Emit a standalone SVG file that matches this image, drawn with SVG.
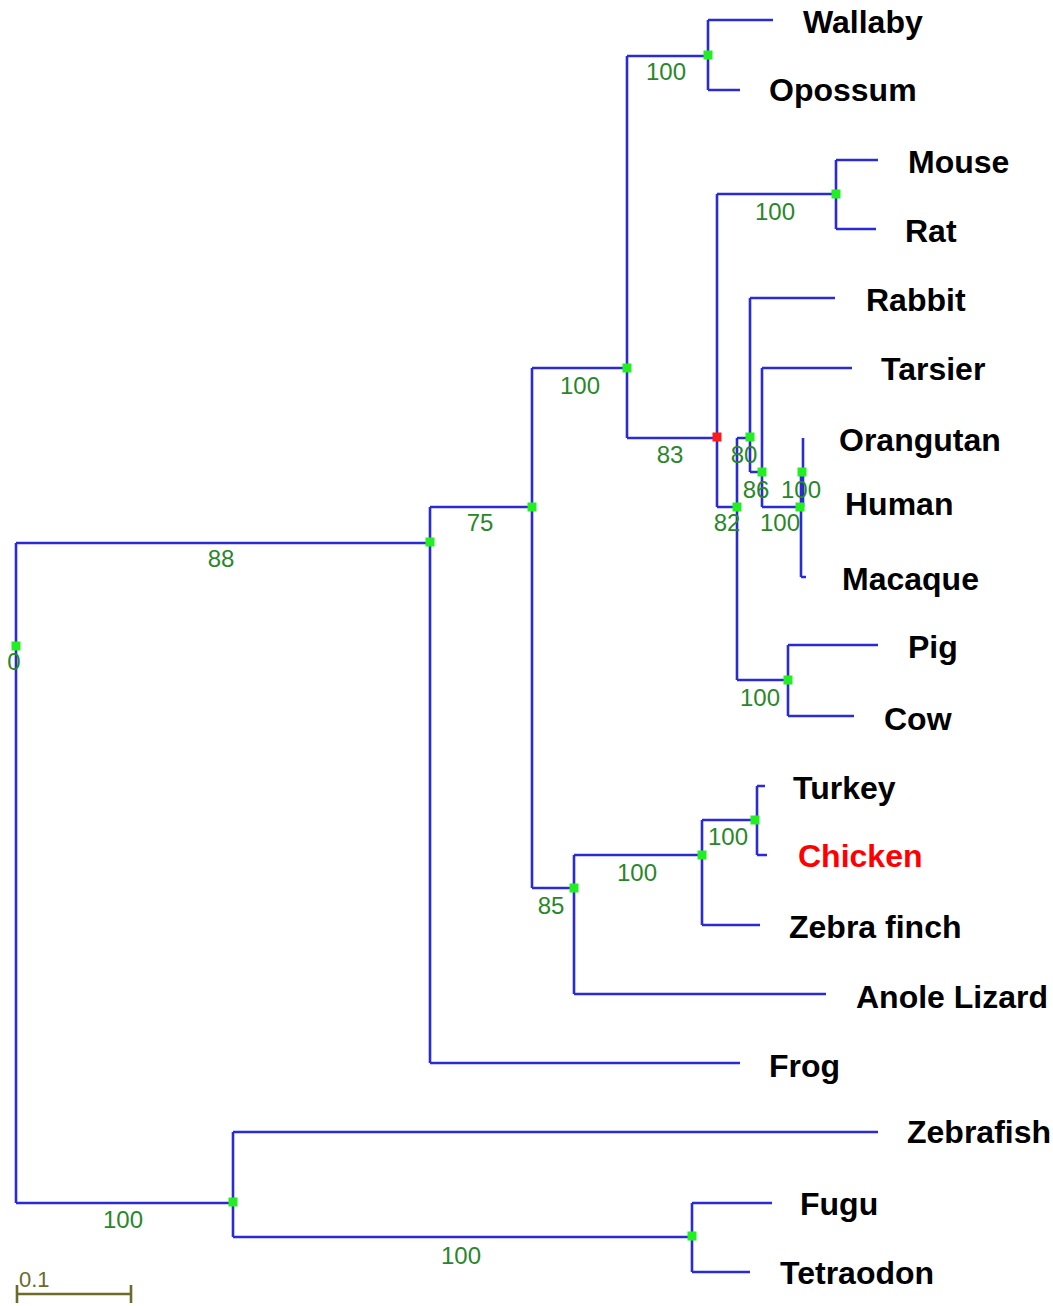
<svg xmlns="http://www.w3.org/2000/svg" width="1053" height="1306" viewBox="0 0 1053 1306">
<style>
.e{fill:none;stroke:#2b2bd6;stroke-width:2.6}
.n{fill:#22ee22}
.r{fill:#ff1a1a}
.b{font-family:"Liberation Sans",Arial,sans-serif;font-size:24px;fill:#2a862a;text-anchor:middle}
.t{font-family:"Liberation Sans",Arial,sans-serif;font-size:32px;font-weight:bold;fill:#000}
</style>
<rect width="1053" height="1306" fill="#fff"/>
<g id="edges">
<path class="e" d="M16,543V1203M16,543H430M16,1203H233"/>
<path class="e" d="M430,507V1063M430,507H532M430,1063H740"/>
<path class="e" d="M532,368V888M532,368H627M532,888H574"/>
<path class="e" d="M627,56V438M627,56H708M627,438H717"/>
<path class="e" d="M708,20V90M708,20H773M708,90H740"/>
<path class="e" d="M717,194V507M717,194H836M717,507H738"/>
<path class="e" d="M836,160V229M836,160H878M836,229H876"/>
<path class="e" d="M737,438V680M737,438H750M737,680H788"/>
<path class="e" d="M750,298V472M750,298H835M750,472H762"/>
<path class="e" d="M762,368V507M762,368H852M762,507H800"/>
<path class="e" d="M803,438V507M801,472V577M801,577H806"/>
<path class="e" d="M788,645V716M788,645H878M788,716H854"/>
<path class="e" d="M574,855V994M574,855H702M574,994H826"/>
<path class="e" d="M702,820V925M702,820H757M702,925H760"/>
<path class="e" d="M757,786V855M757,786H765M757,855H767"/>
<path class="e" d="M233,1132V1237M233,1132H878M233,1237H692"/>
<path class="e" d="M692,1203V1272M692,1203H772M692,1272H750"/>
</g>
<g id="markers">
<rect class="n" x="11.5" y="641.5" width="9" height="9"/>
<rect class="n" x="425.5" y="537.5" width="9" height="9"/>
<rect class="n" x="527.5" y="502.5" width="9" height="9"/>
<rect class="n" x="622.5" y="363.5" width="9" height="9"/>
<rect class="n" x="703.5" y="50.5" width="9" height="9"/>
<rect class="r" x="712.5" y="432.5" width="9" height="9"/>
<rect class="n" x="831.5" y="189.5" width="9" height="9"/>
<rect class="n" x="732.5" y="502.5" width="9" height="9"/>
<rect class="n" x="745.5" y="432.5" width="9" height="9"/>
<rect class="n" x="757.5" y="467.5" width="9" height="9"/>
<rect class="n" x="797.5" y="467.5" width="9" height="9"/>
<rect class="n" x="795.5" y="502.5" width="9" height="9"/>
<rect class="n" x="783.5" y="675.5" width="9" height="9"/>
<rect class="n" x="569.5" y="883.5" width="9" height="9"/>
<rect class="n" x="697.5" y="850.5" width="9" height="9"/>
<rect class="n" x="750.5" y="815.5" width="9" height="9"/>
<rect class="n" x="228.5" y="1197.5" width="9" height="9"/>
<rect class="n" x="687.5" y="1231.5" width="9" height="9"/>
</g>
<g id="support">
<text class="b" x="14" y="670">0</text>
<text class="b" x="221" y="567">88</text>
<text class="b" x="480" y="531">75</text>
<text class="b" x="580" y="394">100</text>
<text class="b" x="666" y="80">100</text>
<text class="b" x="670" y="463">83</text>
<text class="b" x="775" y="220">100</text>
<text class="b" x="744" y="463">80</text>
<text class="b" x="727" y="531">82</text>
<text class="b" x="756" y="498">86</text>
<text class="b" x="801" y="498">100</text>
<text class="b" x="780" y="531">100</text>
<text class="b" x="760" y="706">100</text>
<text class="b" x="728" y="845">100</text>
<text class="b" x="637" y="881">100</text>
<text class="b" x="551" y="914">85</text>
<text class="b" x="123" y="1228">100</text>
<text class="b" x="461" y="1264">100</text>
</g>
<g id="taxa">
<text class="t" x="803" y="33">Wallaby</text>
<text class="t" x="769" y="101">Opossum</text>
<text class="t" x="908" y="173">Mouse</text>
<text class="t" x="905" y="242">Rat</text>
<text class="t" x="866" y="311">Rabbit</text>
<text class="t" x="881" y="380">Tarsier</text>
<text class="t" x="839" y="451">Orangutan</text>
<text class="t" x="845" y="515">Human</text>
<text class="t" x="842" y="590">Macaque</text>
<text class="t" x="908" y="658">Pig</text>
<text class="t" x="884" y="730">Cow</text>
<text class="t" x="793" y="799">Turkey</text>
<text class="t" x="798" y="867" style="fill:#ff0000">Chicken</text>
<text class="t" x="789" y="938">Zebra finch</text>
<text class="t" x="856" y="1008">Anole Lizard</text>
<text class="t" x="769" y="1077">Frog</text>
<text class="t" x="907" y="1143">Zebrafish</text>
<text class="t" x="800" y="1215">Fugu</text>
<text class="t" x="780" y="1284">Tetraodon</text>
</g>
<g id="scale">
<path d="M17,1294H131M17,1285V1303M131,1285V1303" fill="none" stroke="#6b6b2a" stroke-width="2.6"/>
<text x="19" y="1287" font-family="Liberation Sans,Arial,sans-serif" font-size="22" fill="#6b6b2a">0.1</text>
</g>
</svg>
